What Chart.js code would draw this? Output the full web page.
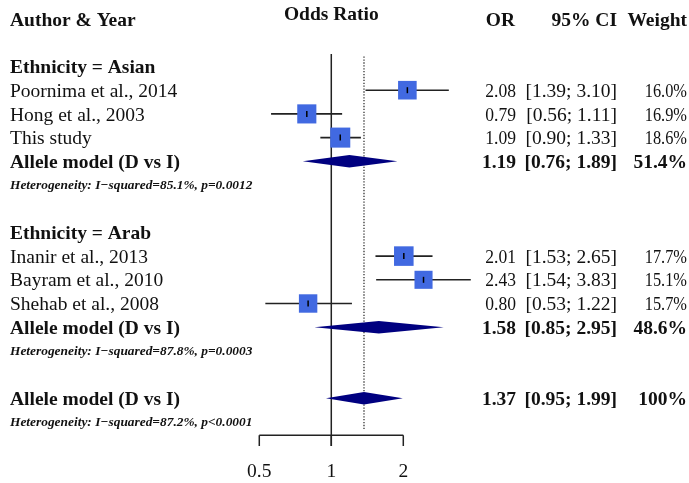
<!DOCTYPE html>
<html>
<head>
<meta charset="utf-8">
<script src="https://cdn.jsdelivr.net/npm/chart.js@4.4.1/dist/chart.umd.min.js"></script>
<style>
  html, body { margin: 0; padding: 0; background: #ffffff; }
  #wrap { width: 689px; height: 483px; }
</style>
</head>
<body>
<div id="wrap"><canvas id="forest" width="689" height="483"></canvas></div>
<script>
// ---- Study-level data ----
const studyNames  = ['Poornima et al., 2014', 'Hong et al., 2003', 'This study',
                     'Inanir et al., 2013', 'Bayram et al., 2010', 'Shehab et al., 2008'];
const studyGroup  = [0, 0, 0, 1, 1, 1];
const studyOR     = [2.08, 0.79, 1.09, 2.01, 2.43, 0.80];
const studyLower  = [1.39, 0.56, 0.90, 1.53, 1.54, 0.53];
const studyUpper  = [3.10, 1.11, 1.33, 2.65, 3.83, 1.22];
const studyWeight = [16.0, 16.9, 18.6, 17.7, 15.1, 15.7];

// ---- Subgroup pooled estimates ----
const groupNames  = ['Ethnicity = Asian', 'Ethnicity = Arab'];
const groupOR     = [1.19, 1.58];
const groupLower  = [0.76, 0.85];
const groupUpper  = [1.89, 2.95];
const groupWeight = [51.4, 48.6];
const groupHet    = ['Heterogeneity: I\u2212squared=85.1%, p=0.0012',
                     'Heterogeneity: I\u2212squared=87.8%, p=0.0003'];

// ---- Overall pooled estimate ----
const overallOR     = 1.37;
const overallLower  = 0.95;
const overallUpper  = 1.99;
const overallWeight = 100;
const overallHet    = 'Heterogeneity: I\u2212squared=87.2%, p<0.0001';

const pooledLabel = 'Allele model (D vs I)';
const headerLabels = ['Author & Year', 'Odds Ratio', 'OR', '95% CI', 'Weight'];
const xTickValues = [0.5, 1, 2];
const xTickLabels = ['0.5', '1', '2'];

// ---- Row layout: group header, studies, pooled, heterogeneity, blank ----
const studyRow = [];
const groupHeaderRow = [];
const groupPooledRow = [];
const groupHetRow = [];
let row = 0;
groupNames.forEach((g, gi) => {
  groupHeaderRow.push(row++);
  studyGroup.forEach((sg, si) => { if (sg === gi) studyRow[si] = row++; });
  groupPooledRow.push(row++);
  groupHetRow.push(row++);
  row++;
});
const overallRow = row;
const overallHetRow = row + 1;
const headerRow = -2;

const fmt2 = v => v.toFixed(2);
const fmtCI = (lo, hi) => '[' + fmt2(lo) + '; ' + fmt2(hi) + ']';
const fmtW = w => (w >= 100 ? w.toFixed(0) : w.toFixed(1)) + '%';

const SERIF = '"Liberation Serif", "Times New Roman", serif';
const INK = '#111111';

// Diamonds, reference lines, axis and text columns
const forestPlugin = {
  id: 'forestPlugin',
  beforeDatasetsDraw(chart) {
    const { ctx, scales: { x, y } } = chart;
    const x1 = x.getPixelForValue(1);
    const xo = x.getPixelForValue(overallOR);
    const axisY = y.getPixelForValue(15.56);
    ctx.save();
    // line of no effect
    ctx.strokeStyle = '#222222';
    ctx.lineWidth = 1.5;
    ctx.beginPath();
    ctx.moveTo(x1, y.getPixelForValue(-0.53));
    ctx.lineTo(x1, axisY + 10.7);
    ctx.stroke();
    // dotted line at overall estimate
    ctx.setLineDash([1.3, 1.6]);
    ctx.lineWidth = 1.3;
    ctx.strokeStyle = '#333333';
    ctx.beginPath();
    ctx.moveTo(xo, y.getPixelForValue(-0.42));
    ctx.lineTo(xo, axisY - 4.6);
    ctx.stroke();
    ctx.setLineDash([]);
    // x axis with bracket ticks
    ctx.strokeStyle = '#222222';
    ctx.lineWidth = 1.5;
    const xa = x.getPixelForValue(xTickValues[0]);
    const xb = x.getPixelForValue(xTickValues[xTickValues.length - 1]);
    ctx.beginPath();
    ctx.moveTo(xa, axisY);
    ctx.lineTo(xb, axisY);
    xTickValues.forEach(v => {
      const px = x.getPixelForValue(v);
      ctx.moveTo(px, axisY);
      ctx.lineTo(px, axisY + 10.7);
    });
    ctx.stroke();
    ctx.fillStyle = INK;
    ctx.font = '19.5px ' + SERIF;
    ctx.textAlign = 'center';
    ctx.textBaseline = 'alphabetic';
    xTickValues.forEach((v, i) => {
      ctx.fillText(xTickLabels[i], x.getPixelForValue(v), axisY + 41.4);
    });
    ctx.restore();
  },
  afterDatasetsDraw(chart) {
    const { ctx, scales: { x, y } } = chart;
    const diamond = (est, lo, hi, r) => {
      const cy = y.getPixelForValue(r);
      ctx.beginPath();
      ctx.moveTo(x.getPixelForValue(lo), cy);
      ctx.lineTo(x.getPixelForValue(est), cy - 6.2);
      ctx.lineTo(x.getPixelForValue(hi), cy);
      ctx.lineTo(x.getPixelForValue(est), cy + 6.2);
      ctx.closePath();
      ctx.fill();
    };
    ctx.save();
    ctx.fillStyle = '#000080';
    groupOR.forEach((v, i) => diamond(v, groupLower[i], groupUpper[i], groupPooledRow[i]));
    diamond(overallOR, overallLower, overallUpper, overallRow);

    // text columns
    const left = 10, colOR = 516, colCI = 617, colW = 687;
    const base = r => y.getPixelForValue(r) + 6.6;
    const hetBase = r => y.getPixelForValue(r) + 3.6;
    ctx.fillStyle = INK;
    ctx.textBaseline = 'alphabetic';
    const bold = 'bold 19.5px ' + SERIF;
    const plain = '19.5px ' + SERIF;
    const het = 'italic bold 13.4px ' + SERIF;
    const put = (t, px, py, font, align, sx) => {
      ctx.font = font; ctx.textAlign = align;
      if (sx && sx !== 1) {
        ctx.save();
        ctx.translate(px, py);
        ctx.scale(sx, 1);
        ctx.fillText(t, 0, 0);
        ctx.restore();
      } else {
        ctx.fillText(t, px, py);
      }
    };
    // header
    put(headerLabels[0], left, base(headerRow), bold, 'left');
    put(headerLabels[1], x.getPixelForValue(1), base(headerRow - 0.22), bold, 'center');
    put(headerLabels[2], colOR - 1, base(headerRow), bold, 'right');
    put(headerLabels[3], colCI, base(headerRow), bold, 'right');
    put(headerLabels[4], colW, base(headerRow), bold, 'right');
    // groups
    groupNames.forEach((g, gi) => {
      put(g, left, base(groupHeaderRow[gi]), bold, 'left');
      put(pooledLabel, left, base(groupPooledRow[gi]), bold, 'left');
      put(fmt2(groupOR[gi]), colOR, base(groupPooledRow[gi]), bold, 'right');
      put(fmtCI(groupLower[gi], groupUpper[gi]), colCI, base(groupPooledRow[gi]), bold, 'right');
      put(fmtW(groupWeight[gi]), colW, base(groupPooledRow[gi]), bold, 'right');
      put(groupHet[gi], left, hetBase(groupHetRow[gi]), het, 'left');
    });
    // studies
    studyNames.forEach((s, i) => {
      put(s, left, base(studyRow[i]), plain, 'left');
      put(fmt2(studyOR[i]), colOR, base(studyRow[i]), plain, 'right', 0.9);
      put(fmtCI(studyLower[i], studyUpper[i]), colCI, base(studyRow[i]), plain, 'right');
      put(fmtW(studyWeight[i]), colW, base(studyRow[i]), plain, 'right', 0.84);
    });
    // overall
    put(pooledLabel, left, base(overallRow), bold, 'left');
    put(fmt2(overallOR), colOR, base(overallRow), bold, 'right');
    put(fmtCI(overallLower, overallUpper), colCI, base(overallRow), bold, 'right');
    put(fmtW(overallWeight), colW, base(overallRow), bold, 'right');
    put(overallHet, left, hetBase(overallHetRow), het, 'left');
    ctx.restore();
  }
};

// confidence-interval segments, one per study
const ciDatasets = studyNames.map((s, i) => ({
  type: 'line',
  label: s + ' CI',
  data: [{ x: studyLower[i], y: studyRow[i] }, { x: studyUpper[i], y: studyRow[i] }],
  borderColor: '#222222',
  borderWidth: 1.6,
  pointRadius: 0,
  fill: false,
  order: 3
}));

const squareDataset = {
  type: 'scatter',
  label: 'Study estimates',
  data: studyOR.map((v, i) => ({ x: v, y: studyRow[i] })),
  pointStyle: 'rect',
  pointRadius: c => Math.sqrt(studyWeight[c.dataIndex]) * 4.65 / Math.SQRT2,
  backgroundColor: '#4169E1',
  borderColor: '#4169E1',
  borderWidth: 0,
  order: 2
};

const tickDataset = {
  type: 'scatter',
  label: 'Point estimates',
  data: studyOR.map((v, i) => ({ x: v, y: studyRow[i] })),
  pointStyle: 'line',
  rotation: 90,
  pointRadius: 3,
  borderColor: '#000000',
  borderWidth: 1.5,
  order: 1
};

new Chart(document.getElementById('forest'), {
  type: 'scatter',
  data: { datasets: [tickDataset, squareDataset, ...ciDatasets] },
  options: {
    responsive: false,
    animation: false,
    events: [],
    layout: { padding: 0, autoPadding: false },
    plugins: { legend: { display: false }, tooltip: { enabled: false } },
    scales: {
      x: {
        type: 'logarithmic',
        display: false,
        bounds: 'data',
        min: 0.04120,
        max: 31.30
      },
      y: {
        type: 'linear',
        display: false,
        reverse: true,
        bounds: 'data',
        min: -2.8059,
        max: 17.5738
      }
    }
  },
  plugins: [forestPlugin]
});
</script>
</body>
</html>
